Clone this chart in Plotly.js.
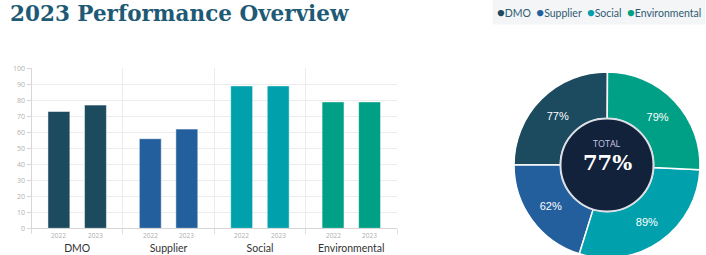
<!DOCTYPE html>
<html><head><meta charset="utf-8">
<script src="https://cdn.plot.ly/plotly-3.0.1.min.js"></script>
<style>html,body{margin:0;padding:0;overflow:hidden;background:#fff}#chart{width:706px;height:258px}</style>
</head><body><div id="chart"></div>
<script>
const categories = ['DMO', 'Supplier', 'Social', 'Environmental'];
const years = ['2022', '2023'];
const values2022 = [73, 56, 89, 79];
const values2023 = [77, 62, 89, 79];
const colors = ['#1c4a5f', '#245f9d', '#00a0ac', '#00a086'];
const totalLabel = 'TOTAL';
const totalValue = 77;
const titleText = '2023 Performance Overview';

const W = 706, H = 258;
const fx = px => px / W, fy = py => (H - py) / H;
const xDom = [fx(31.5), fx(397)];
const bargap = 0.2, bargroupgap = 0.4;

const seriesVals = [values2022, values2023];
const traces = years.map((yr, j) => ({
  type: 'bar', name: yr, x: categories, y: seriesVals[j],
  marker: {color: colors, line: {color: 'rgba(255,255,255,0.5)', width: 1}},
  showlegend: false, hoverinfo: 'x+y'
}));

const pieCx = 607, pieCy = 165, pieR = 93, holeR = 46.5;
traces.push({
  type: 'pie', values: values2023, labels: categories, sort: false,
  direction: 'counterclockwise', rotation: -90, hole: 0.5,
  marker: {colors: colors, line: {color: '#ffffff', width: 1.5}},
  texttemplate: '%{value}%', textposition: 'inside', insidetextorientation: 'horizontal',
  textfont: {family: 'Liberation Sans, Arial', size: 11, color: '#ffffff'},
  domain: {x: [fx(pieCx - pieR), fx(pieCx + pieR)], y: [fy(pieCy + pieR), fy(pieCy - pieR)]},
  showlegend: false
});
traces.push({
  type: 'pie', values: [1], labels: [totalLabel], sort: false,
  marker: {colors: ['#12223a'], line: {color: '#dcdfe6', width: 2}},
  textinfo: 'none', hoverinfo: 'skip',
  domain: {x: [fx(pieCx - holeR), fx(pieCx + holeR)], y: [fy(pieCy + holeR), fy(pieCy - holeR)]},
  showlegend: false
});

const catW = (xDom[1] - xDom[0]) * W / categories.length;
const slot = catW * (1 - bargap) / years.length;
const annotations = [];
categories.forEach((c) => {
  years.forEach((yr, j) => {
    annotations.push({
      x: c, y: 0, xref: 'x', yref: 'y', yanchor: 'top', yshift: -1,
      xshift: (j - (years.length - 1) / 2) * slot, text: yr, showarrow: false,
      font: {family: 'Open Sans', size: 6.5, color: '#adadad'}
    });
  });
});

const legendText = categories.map((c, i) =>
  `<span style="color:${colors[i]};font-size:13px">●</span>${c}`).join('\u00a0\u00a0');
annotations.push({
  xref: 'paper', yref: 'paper', x: 1, xanchor: 'right', y: fy(12), yanchor: 'middle',
  text: legendText, showarrow: false, bgcolor: '#f4f5f6', borderpad: 4,
  font: {family: 'Lato, Open Sans', size: 10.5, color: '#2f5b73'}
});
annotations.push({
  xref: 'paper', yref: 'paper', x: fx(pieCx), y: fy(143), xanchor: 'center', yanchor: 'middle',
  text: totalLabel, showarrow: false, font: {family: 'Open Sans', size: 9, color: '#c9c6e0'}
});
annotations.push({
  xref: 'paper', yref: 'paper', x: fx(pieCx), y: fy(162), xanchor: 'center', yanchor: 'middle',
  text: totalValue + '%', showarrow: false,
  font: {family: 'DejaVu Serif', size: 21, color: '#ffffff', weight: 'bold'}
});

const layout = {
  width: W, height: H, margin: {l: 0, r: 0, t: 0, b: 0},
  paper_bgcolor: '#ffffff', plot_bgcolor: '#ffffff',
  title: {text: titleText, x: fx(10), xanchor: 'left', xref: 'container',
          y: fy(13), yanchor: 'middle', yref: 'container',
          font: {family: 'DejaVu Serif', size: 21.5, color: '#1e5a75', weight: 'bold'}},
  barmode: 'group', bargap: bargap, bargroupgap: bargroupgap,
  xaxis: {domain: xDom, type: 'category', tickson: 'boundaries', ticks: 'outside', ticklen: 5,
          tickcolor: '#dddddd', showgrid: true, gridcolor: '#ececec', showline: true,
          linecolor: '#d6d6d6', ticklabelstandoff: 10,
          tickfont: {family: 'Lato, Open Sans', size: 10.5, color: '#333333'}},
  yaxis: {domain: [fy(228.3), fy(68.3)], range: [0, 100], dtick: 10, ticks: 'outside', ticklen: 4,
          tickcolor: '#d6d6d6', showline: true, linecolor: '#d6d6d6', gridcolor: '#ececec',
          zeroline: false, tickfont: {family: 'Open Sans', size: 7, color: '#b0b0b0'}},
  annotations: annotations, showlegend: false
};
Plotly.newPlot('chart', traces, layout, {displayModeBar: false, staticPlot: true});
</script></body></html>
